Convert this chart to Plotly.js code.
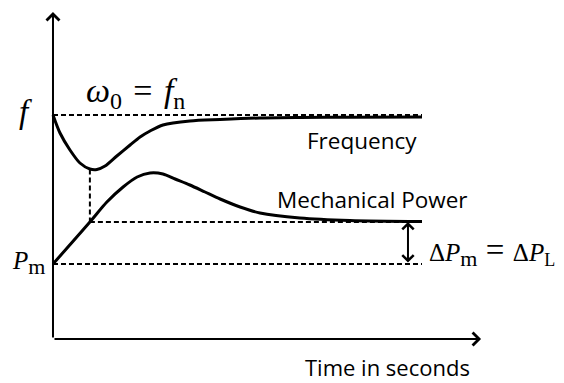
<!DOCTYPE html>
<html>
<head>
<meta charset="utf-8">
<script src="https://cdn.plot.ly/plotly-3.0.1.min.js"></script>
<style>
  html, body { margin: 0; padding: 0; background: #fff; }
  #chart { width: 564px; height: 383px; }
</style>
</head>
<body>
<div id="chart"></div>
<script>
// Time samples (arbitrary units) and responses after a load step
const freqTime = [0, 0.19, 0.46, 0.73, 1.0, 1.19, 1.41, 1.73, 2.09, 2.36, 2.63, 2.98, 3.71, 4.53, 5.61, 6.69, 8.05, 10];
const freqValue = [22.4, 20.6, 18.9, 17.6, 17.0, 16.95, 17.3, 18.3, 19.4, 20.2, 20.8, 21.4, 21.8, 21.95, 22.1, 22.15, 22.18, 22.2];

const powerTime = [0, 1.0, 1.46, 1.90, 2.28, 2.63, 2.98, 3.31, 3.71, 4.12, 4.53, 5.07, 5.61, 6.69, 8.05, 10];
const powerValue = [7.5, 11.7, 13.7, 15.2, 16.2, 16.6, 16.5, 16.0, 15.4, 14.7, 14.0, 13.2, 12.6, 12.1, 11.85, 11.75];

// Reference levels
const nominalFreq = 22.4;   // f = ω0 = fn
const initialPower = 7.5;   // Pm before the step
const finalPower = 11.7;    // Pm + ΔPm
const dipTime = 1.0;        // time of the frequency minimum
const endTime = 10;
const stepMarkerTime = 9.62;
const axisTopY = 32.7;
const axisEndX = 11.6;

const solid = { color: '#000', width: 3, shape: 'spline', smoothing: 0.8 };
const dashed = { color: '#000', width: 2, dash: '5px,3px' };

const traces = [
  { x: [0, endTime], y: [nominalFreq, nominalFreq], mode: 'lines', line: dashed, hoverinfo: 'skip' },
  { x: [0, endTime], y: [initialPower, initialPower], mode: 'lines', line: dashed, hoverinfo: 'skip' },
  { x: [dipTime, endTime], y: [finalPower, finalPower], mode: 'lines', line: dashed, hoverinfo: 'skip' },
  { x: [dipTime, dipTime], y: [Math.min(...freqValue), finalPower], mode: 'lines', line: dashed, hoverinfo: 'skip' },
  { x: freqTime, y: freqValue, mode: 'lines', line: solid, name: 'Frequency' },
  { x: powerTime, y: powerValue, mode: 'lines', line: solid, name: 'Mechanical Power' }
];

const serif = 'Liberation Serif, serif';
const textFont = { family: 'Open Sans, sans-serif', size: 22.5, color: '#000' };

// Subscript with its own size, so it stays large like in typeset math
function sub(s, size) {
  return '<sub><span style="font-size:' + size + 'px">' + s + '</span></sub>';
}
const eq = '\u2004=\u2004';
const wideEq = '\u2004<span style="font-size:33px">=</span>\u2004';

function arrow(x, y, ax, ay, opts) {
  return Object.assign({
    x: x, y: y, ax: ax, ay: ay, xref: 'x', yref: 'y', axref: 'x', ayref: 'y',
    text: '', showarrow: true, arrowhead: 4, arrowwidth: 2, arrowsize: 1.2,
    arrowcolor: '#000', standoff: 0, startstandoff: 0
  }, opts || {});
}

function label(px, py, text, font, xanchor, yanchor) {
  return {
    x: px / 564, y: 1 - py / 383, xref: 'paper', yref: 'paper',
    text: text, showarrow: false, font: font, borderpad: 0,
    xanchor: xanchor || 'left', yanchor: yanchor || 'middle'
  };
}

const annotations = [
  arrow(0, axisTopY, 0, 0, { arrowsize: 1.25 }),
  arrow(axisEndX, 0, 0, 0, { arrowsize: 1.25 }),
  arrow(stepMarkerTime, finalPower, stepMarkerTime, initialPower, { arrowside: 'end+start', arrowsize: 1.1 }),
  label(25, 112, '<i>f</i>', { family: serif, size: 33, color: '#000' }, 'center'),
  label(85, 93, '<i>ω</i>' + sub('0', 24) + eq + '<i>f</i>' + sub('n', 24), { family: serif, size: 34, color: '#000' }),
  label(11, 263, '<i>P</i>' + sub('m', 22), { family: serif, size: 25, color: '#000' }),
  label(428, 251, 'Δ<i>P</i>' + sub('m', 22) + wideEq + 'Δ<i>P</i>' + sub('L', 18), { family: serif, size: 25, color: '#000' }),
  label(306, 141, 'Frequency', textFont),
  label(276, 199, 'Mechanical Power', textFont),
  label(304, 382.5, 'Time in seconds', { family: 'Open Sans, sans-serif', size: 22, color: '#000' }, 'left', 'bottom')
];

const layout = {
  width: 564, height: 383,
  margin: { l: 0, r: 0, t: 0, b: 0 },
  paper_bgcolor: '#fff', plot_bgcolor: '#fff',
  showlegend: false,
  xaxis: { range: [-1.436, 13.848], visible: false, fixedrange: true },
  yaxis: { range: [-4.4, 33.9], visible: false, fixedrange: true },
  annotations: annotations
};

Plotly.newPlot('chart', traces, layout, { staticPlot: true });
</script>
</body>
</html>
